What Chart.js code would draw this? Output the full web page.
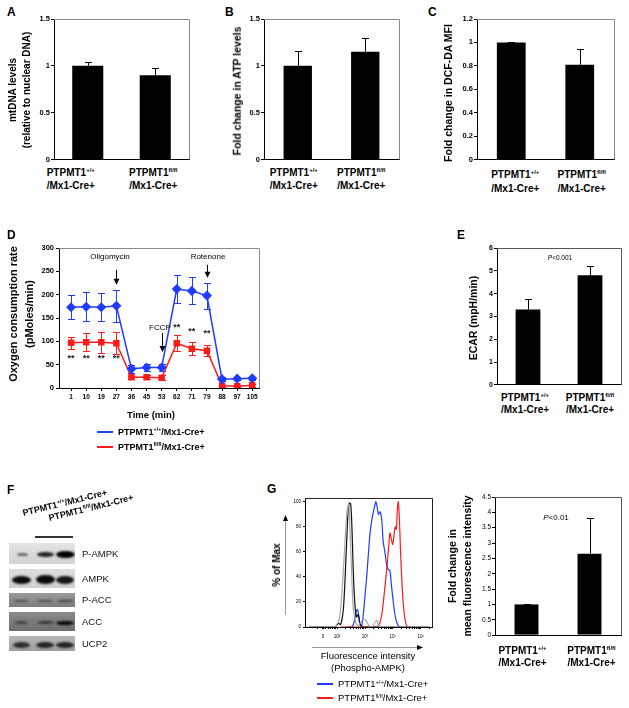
<!DOCTYPE html>
<html>
<head>
<meta charset="utf-8">
<title>PTPMT1 figure</title>
<script src="https://cdn.jsdelivr.net/npm/chart.js@4.4.1/dist/chart.umd.min.js"></script>
<style>
  html, body { margin: 0; padding: 0; background: #fff; }
  body { width: 629px; height: 708px; position: relative; overflow: hidden; font-family: "Liberation Sans", Arial, sans-serif; color: #000; }
  canvas { position: absolute; }
  .t { position: absolute; white-space: nowrap; line-height: 1; }
  .c { transform: translate(-50%, -50%); text-align: center; }
  .r { transform: translate(-50%, -50%) rotate(-90deg); text-align: center; }
  .cat { transform: translateX(-50%); text-align: center; font-weight: bold; font-size: 10px; }
  .lt { font-weight: bold; font-size: 12px; }
  .b { font-weight: bold; }
  sup { font-size: .6em; line-height: 0; vertical-align: .65em; }
  .blot { position: absolute; overflow: hidden; }
  .band { position: absolute; border-radius: 50%; filter: blur(1px); }
  .leg { position: absolute; height: 2px; }
</style>
</head>
<body>
<script>
// ---- values ----
const genotypes = ["+/+", "fl/fl"];
const geneName = "PTPMT1";
const creSuffix = "/Mx1-Cre+";

const mtdnaValues = [1.0, 0.9];
const mtdnaErrors = [0.045, 0.08];
const atpValues = [1.0, 1.15];
const atpErrors = [0.16, 0.15];
const dcfValues = [1.0, 0.81];
const dcfErrors = [0.004, 0.13];
const ecarValues = [3.3, 4.8];
const ecarErrors = [0.45, 0.4];
const mfiValues = [1.0, 2.65];
const mfiErrors = [0.02, 1.15];

const timeLabels = [1, 10, 19, 27, 36, 45, 53, 62, 71, 79, 88, 97, 105];
const ocrControl = [173, 174, 173, 176, 41, 44, 44, 212, 208, 198, 19, 20, 21];
const ocrControlErr = [26, 31, 30, 34, 8, 8, 8, 30, 29, 28, 4, 3, 3];
const ocrKnockout = [97, 98, 98, 96, 23, 23, 22, 96, 84, 80, 5, 4, 6];
const ocrKnockoutErr = [13, 19, 22, 24, 3, 4, 5, 17, 14, 12, 2, 2, 3];

// flow histogram, x in decades of fluorescence, y in % of max
const histGrayX = [1.0, 1.93, 1.99, 2.05, 2.11, 2.20, 2.29, 2.37, 2.42, 2.46, 2.52, 2.58, 2.68, 2.76, 2.85, 2.94, 3.04, 3.15, 3.27, 3.36, 3.44, 3.51, 5.3];
const histGrayY = [0, 0, 2, 4, 10, 35, 70, 95, 98, 80, 45, 15, 3, 1, 4, 6, 5, 1, 0, 4, 5, 0, 0];
const histBlackX = [1.0, 1.93, 2.05, 2.13, 2.23, 2.32, 2.39, 2.44, 2.49, 2.54, 2.58, 2.64, 2.70, 2.76, 2.82, 2.92, 5.3];
const histBlackY = [0, 0, 3, 2, 15, 55, 90, 99, 98, 75, 45, 18, 8, 10, 3, 0, 0];
const histBlueX = [2.35, 2.52, 2.60, 2.68, 2.73, 2.77, 2.82, 2.88, 2.94, 3.00, 3.06, 3.12, 3.18, 3.24, 3.30, 3.36, 3.39, 3.44, 3.48, 3.54, 3.60, 3.65, 3.71, 3.77, 3.83, 3.89, 3.95, 4.01, 4.07, 4.13, 4.23, 4.4];
const histBlueY = [0, 0, 3, 12, 14, 10, 2, 1, 10, 25, 40, 58, 75, 85, 92, 98, 100, 95, 90, 92, 85, 68, 60, 50, 46, 45, 32, 20, 10, 4, 0, 0];
const histRedX = [2.11, 3.42, 3.51, 3.60, 3.68, 3.77, 3.85, 3.89, 3.94, 3.99, 4.04, 4.08, 4.12, 4.15, 4.19, 4.23, 4.27, 4.32, 4.37, 4.43, 4.51, 4.6];
const histRedY = [0, 0, 2, 10, 25, 45, 65, 75, 70, 66, 74, 80, 78, 92, 100, 85, 60, 35, 18, 6, 0, 0];
const histTickValues = [1.5, 2, 3, 4, 5];
const histTickLabels = ["0", "10²", "10³", "10⁴", "10⁵"];

const blotNames = ["P-AMPK", "AMPK", "P-ACC", "ACC", "UCP2"];

// ---- helpers ----
const family = '"Liberation Sans", Arial, sans-serif';
const blue = "#1f3cff";
const red = "#ff1a1a";
Chart.defaults.font.family = family;
Chart.defaults.color = "#000";

function addText(html, x, y, cls, style) {
  const d = document.createElement("div");
  d.className = "t " + (cls || "");
  d.innerHTML = html;
  d.style.left = x + "px";
  d.style.top = y + "px";
  if (style) Object.assign(d.style, style);
  document.body.appendChild(d);
  return d;
}

function placeCanvas(box) {
  const c = document.createElement("canvas");
  c.width = box[2];
  c.height = box[3];
  c.style.left = box[0] + "px";
  c.style.top = box[1] + "px";
  c.style.width = box[2] + "px";
  c.style.height = box[3] + "px";
  document.body.appendChild(c);
  return c;
}

function genoLabel(i) {
  return geneName + "<sup>" + genotypes[i] + "</sup>";
}

const frame = {
  id: "frame",
  afterDraw(chart, args, o) {
    const { ctx, chartArea: a } = chart;
    ctx.save();
    ctx.strokeStyle = o.color || "#888";
    ctx.lineWidth = 1;
    ctx.beginPath();
    ctx.moveTo(a.left, Math.round(a.top) + 0.5);
    ctx.lineTo(Math.round(a.right) + 0.5, Math.round(a.top) + 0.5);
    ctx.lineTo(Math.round(a.right) + 0.5, a.bottom);
    ctx.stroke();
    ctx.restore();
  },
};

const errorBars = {
  id: "errorBars",
  beforeDatasetsDraw(chart) {
    const ctx = chart.ctx;
    const ys = chart.scales.y;
    chart.data.datasets.forEach((ds, d) => {
      if (!ds.errors) return;
      const meta = chart.getDatasetMeta(d);
      ctx.save();
      ctx.strokeStyle = ds.errorColor || "#000";
      ctx.lineWidth = 1;
      meta.data.forEach((el, i) => {
        const raw = ds.data[i];
        const v = typeof raw === "object" ? raw.y : raw;
        const e = ds.errors[i];
        const x = Math.round(el.x) + 0.5;
        const top = Math.round(ys.getPixelForValue(v + e)) + 0.5;
        const bot = ds.upOnly ? ys.getPixelForValue(v) : Math.round(ys.getPixelForValue(v - e)) + 0.5;
        const w = ds.capWidth || 3;
        ctx.beginPath();
        ctx.moveTo(x, bot);
        ctx.lineTo(x, top);
        ctx.moveTo(x - w, top);
        ctx.lineTo(x + w, top);
        if (!ds.upOnly) {
          ctx.moveTo(x - w, bot);
          ctx.lineTo(x + w, bot);
        }
        ctx.stroke();
      });
      ctx.restore();
    });
  },
};

function barPanel(p) {
  const box = p.box, plot = p.plot;
  const chart = new Chart(placeCanvas(box), {
    type: "bar",
    data: {
      labels: genotypes,
      datasets: [{
        data: p.values,
        errors: p.errors,
        upOnly: true,
        capWidth: 3.5,
        backgroundColor: "#000",
        borderWidth: 0,
        barPercentage: p.bar,
        categoryPercentage: 1,
      }],
    },
    options: {
      responsive: false,
      animation: false,
      devicePixelRatio: 1,
      layout: { padding: { left: 0, bottom: 0, top: plot[1] - box[1], right: box[0] + box[2] - plot[2] } },
      plugins: { legend: { display: false }, tooltip: { enabled: false }, frame: { color: p.frame || "#8a8a8a" } },
      scales: {
        x: {
          grid: { drawOnChartArea: false, drawTicks: false },
          border: { color: "#000" },
          ticks: { display: false },
          afterFit(s) { s.height = box[1] + box[3] - plot[3]; },
        },
        y: {
          min: 0,
          max: p.max,
          ticks: {
            stepSize: p.step,
            padding: 1,
            color: "#000",
            font: { size: p.tickSize || 7.5, weight: p.tickWeight || "bold" },
            callback: (v) => String(+v.toFixed(2)),
          },
          grid: { drawOnChartArea: false, tickLength: 3, color: "#000" },
          border: { color: "#000" },
          afterFit(s) { s.width = plot[0] - box[0]; },
        },
      },
    },
    plugins: [frame, errorBars],
  });
  const xs = chart.scales.x;
  genotypes.forEach((g, i) => {
    const cx = box[0] + xs.getPixelForValue(i) + p.shift[i];
    addText(genoLabel(i) + "<br>" + creSuffix, cx, p.labelTop, "cat", { lineHeight: p.labelLh + "px" });
  });
  return chart;
}

// ---- panels A, B, C ----
addText("A", 7, 6, "lt");
addText("B", 225, 6, "lt");
addText("C", 428, 6, "lt");

barPanel({ values: mtdnaValues, errors: mtdnaErrors, max: 1.5, step: 0.5, box: [30, 12, 165, 153], plot: [54, 19, 189, 161], bar: 0.46, labelTop: 166, labelLh: 13, shift: [-17, -2] });
barPanel({ values: atpValues, errors: atpErrors, max: 1.5, step: 0.5, box: [240, 12, 165, 153], plot: [264, 19, 399, 161], bar: 0.42, labelTop: 166, labelLh: 13, shift: [-4, -4] });
barPanel({ values: dcfValues, errors: dcfErrors, max: 1.2, step: 0.2, box: [452, 12, 170, 153], plot: [477, 19, 614, 161], bar: 0.42, labelTop: 168, labelLh: 14, shift: [4, 2] });

addText("mtDNA levels<br>(relative to nuclear DNA)", 20, 90, "r b", { fontSize: "10px", lineHeight: "14px" });
addText("Fold change in ATP levels", 237, 91, "r b", { fontSize: "10.5px" });
addText("Fold change in DCF-DA MFI", 448, 93, "r b", { fontSize: "10.5px" });

// ---- panel D ----
addText("D", 7, 229, "lt");
(function () {
  const box = [30, 240, 235, 165], plot = [59, 248, 259, 388];
  const ocrNotes = {
    id: "ocrNotes",
    afterDatasetsDraw(chart) {
      const { ctx, scales: { x, y } } = chart;
      ctx.save();
      ctx.fillStyle = "#000";
      ctx.strokeStyle = "#000";
      ctx.lineWidth = 1;
      ctx.textAlign = "center";
      ctx.textBaseline = "middle";
      ctx.font = "8px " + family;
      [["Oligomycin", 2.58, 281], ["Rotenone", 9.07, 281], ["FCCP", 5.89, 129]].forEach(([t, i, v]) => {
        ctx.fillText(t, x.getPixelForValue(i), y.getPixelForValue(v));
      });
      [[3, 253, 221], [9, 264, 236], [6, 118, 77]].forEach(([i, v0, v1]) => {
        const px = Math.round(x.getPixelForValue(i)) + 0.5;
        const y0 = y.getPixelForValue(v0), y1 = y.getPixelForValue(v1);
        ctx.beginPath();
        ctx.moveTo(px, y0);
        ctx.lineTo(px, y1 - 5);
        ctx.stroke();
        ctx.beginPath();
        ctx.moveTo(px - 3, y1 - 6);
        ctx.lineTo(px + 3, y1 - 6);
        ctx.lineTo(px, y1);
        ctx.closePath();
        ctx.fill();
      });
      ctx.font = "bold 9px " + family;
      ctx.fillStyle = "#222";
      [[0, 64], [1, 64], [2, 64], [3, 64], [7, 129], [8, 120], [9, 116]].forEach(([i, v]) => {
        ctx.fillText("**", x.getPixelForValue(i), y.getPixelForValue(v));
      });
      ctx.restore();
    },
  };
  new Chart(placeCanvas(box), {
    type: "line",
    data: {
      datasets: [
        {
          data: ocrControl.map((v, i) => ({ x: i, y: v })),
          errors: ocrControlErr,
          errorColor: blue,
          capWidth: 3.5,
          borderColor: blue,
          backgroundColor: blue,
          borderWidth: 1.5,
          pointStyle: "rectRot",
          pointRadius: 4,
        },
        {
          data: ocrKnockout.map((v, i) => ({ x: i, y: v })),
          errors: ocrKnockoutErr,
          errorColor: red,
          capWidth: 3.5,
          borderColor: red,
          backgroundColor: red,
          borderWidth: 1.5,
          pointStyle: "rect",
          pointRadius: 3.5,
        },
      ],
    },
    options: {
      responsive: false,
      animation: false,
      devicePixelRatio: 1,
      layout: { padding: { left: 0, bottom: 0, top: plot[1] - box[1], right: box[0] + box[2] - plot[2] } },
      plugins: { legend: { display: false }, tooltip: { enabled: false }, frame: { color: "#8a8a8a" } },
      scales: {
        x: {
          type: "linear",
          min: -0.8,
          max: 12.45,
          afterBuildTicks(s) { s.ticks = timeLabels.map((_, i) => ({ value: i })); },
          ticks: { autoSkip: false, maxRotation: 0, padding: 2, font: { size: 6.5, weight: "bold" }, callback: (v, i) => timeLabels[i] },
          grid: { drawOnChartArea: false, tickLength: 3, color: "#000" },
          border: { color: "#000" },
          afterFit(s) { s.height = box[1] + box[3] - plot[3]; },
        },
        y: {
          min: 0,
          max: 300,
          ticks: { stepSize: 50, padding: 2, font: { size: 7.5, weight: "bold" } },
          grid: { drawOnChartArea: false, tickLength: 3, color: "#000" },
          border: { color: "#000" },
          afterFit(s) { s.width = plot[0] - box[0]; },
        },
      },
    },
    plugins: [frame, errorBars, ocrNotes],
  });
})();
addText("Oxygen consumption rate<br>(pMoles/min)", 21, 314, "r b", { fontSize: "11px", lineHeight: "16px" });
addText("Time (min)", 151, 415, "c b", { fontSize: "9.5px" });
addText("", 97, 431, "leg", { width: "16px", background: blue });
addText("", 97, 446, "leg", { width: "16px", background: red });
addText(genoLabel(0) + creSuffix, 118, 432, "b", { fontSize: "9px", transform: "translateY(-50%)" });
addText(genoLabel(1) + creSuffix, 118, 447, "b", { fontSize: "9px", transform: "translateY(-50%)" });

// ---- panel E ----
addText("E", 457, 229, "lt");
barPanel({ values: ecarValues, errors: ecarErrors, max: 6, step: 1, box: [475, 240, 152, 150], plot: [497, 248, 621, 387], bar: 0.4, labelTop: 392, labelLh: 12, shift: [-3, 0], frame: "#555", tickSize: 7 });
addText("ECAR (mpH/min)", 473, 318, "r b", { fontSize: "10.5px" });
addText("<i>P</i>&lt;0.001", 560, 258, "c", { fontSize: "6.5px" });

// ---- panel F (western blot) ----
addText("F", 7, 484, "lt");
addText(genoLabel(0) + creSuffix, 24, 509, "b", { fontSize: "9px", transformOrigin: "0 100%", transform: "rotate(-14deg)" });
addText(genoLabel(1) + creSuffix, 50, 514, "b", { fontSize: "9px", transformOrigin: "0 100%", transform: "rotate(-14deg)" });
addText("", 35, 536, "leg", { width: "38px", height: "1.5px", background: "#333" });
(function () {
  const blots = [
    { top: 543, h: 21, bg: "linear-gradient(#e4e4e4,#d2d2d2)", bands: [[22, 11, 3, 0.55], [45, 17, 5, 0.85], [65, 19, 7, 1]] },
    { top: 569, h: 19, bg: "linear-gradient(#dedede,#cfcfcf)", bands: [[21, 19, 8, 0.95], [45, 19, 9, 0.95], [65, 18, 8, 0.9]] },
    { top: 593, h: 14, bg: "linear-gradient(#9a9a9a,#7c7c7c)", bands: [[21, 14, 2, 0.45], [45, 16, 2, 0.45], [65, 17, 2, 0.55]] },
    { top: 612, h: 19, bg: "linear-gradient(#8a8a8a,#6e6e6e)", bands: [[21, 14, 3, 0.5], [45, 17, 3, 0.6], [65, 18, 4, 0.95]] },
    { top: 636, h: 15, bg: "linear-gradient(#b8b8b8,#9e9e9e)", bands: [[21, 17, 6, 0.75], [45, 18, 6, 0.8], [65, 18, 6, 0.8]] },
  ];
  blots.forEach((b, k) => {
    const d = document.createElement("div");
    d.className = "blot";
    Object.assign(d.style, { left: "9px", top: b.top + "px", width: "66px", height: b.h + "px", background: b.bg });
    b.bands.forEach(([cx, w, h, a]) => {
      const s = document.createElement("div");
      s.className = "band";
      Object.assign(s.style, { left: cx - 9 - w / 2 + "px", top: b.h / 2 - h / 2 + 1 + "px", width: w + "px", height: h + "px", background: "rgba(0,0,0," + a + ")" });
      d.appendChild(s);
    });
    document.body.appendChild(d);
    addText(blotNames[k], 82, b.top + b.h / 2, "", { fontSize: "9.5px", transform: "translateY(-50%)", color: "#111" });
  });
})();

// ---- panel G (flow histogram + bar) ----
addText("G", 267, 483, "lt");
(function () {
  const box = [272, 492, 165, 160], plot = [305, 498, 432, 627];
  const minor = [];
  for (let d = 1; d <= 5; d++) {
    for (let k = 2; k <= 9; k++) {
      const v = d + Math.log10(k);
      if (v > 1.3 && v < 5.39 && histTickValues.indexOf(v) < 0) minor.push(v);
    }
  }
  const arrows = {
    id: "arrows",
    afterDraw(chart) {
      const { ctx, chartArea: a } = chart;
      ctx.save();
      ctx.strokeStyle = "#9a9a9a";
      ctx.fillStyle = "#000";
      ctx.lineWidth = 1;
      const ax = Math.round(a.left - 20) + 0.5;
      ctx.beginPath();
      ctx.moveTo(ax, a.bottom - 12);
      ctx.lineTo(ax, a.top + 22);
      ctx.stroke();
      ctx.beginPath();
      ctx.moveTo(ax - 2.5, a.top + 23);
      ctx.lineTo(ax + 2.5, a.top + 23);
      ctx.lineTo(ax, a.top + 17);
      ctx.closePath();
      ctx.fill();
      const ay = Math.round(a.bottom + 20) + 0.5;
      ctx.beginPath();
      ctx.moveTo(a.left + 7, ay);
      ctx.lineTo(a.right - 14, ay);
      ctx.stroke();
      ctx.beginPath();
      ctx.moveTo(a.right - 15, ay - 2.5);
      ctx.lineTo(a.right - 15, ay + 2.5);
      ctx.lineTo(a.right - 9, ay);
      ctx.closePath();
      ctx.fill();
      ctx.restore();
    },
  };
  const curve = (xs, ys, color) => ({
    data: xs.map((x, i) => ({ x, y: ys[i] })),
    borderColor: color,
    borderWidth: 1.2,
    pointRadius: 0,
    tension: 0.3,
  });
  new Chart(placeCanvas(box), {
    type: "line",
    data: {
      datasets: [
        curve(histGrayX, histGrayY, "#a8a8a8"),
        curve(histBlackX, histBlackY, "#111"),
        curve(histRedX, histRedY, red),
        curve(histBlueX, histBlueY, blue),
      ],
    },
    options: {
      responsive: false,
      animation: false,
      devicePixelRatio: 1,
      layout: { padding: { left: 0, bottom: 0, top: plot[1] - box[1], right: box[0] + box[2] - plot[2] } },
      plugins: { legend: { display: false }, tooltip: { enabled: false }, frame: { color: "#222" } },
      scales: {
        x: {
          type: "linear",
          min: 0.857,
          max: 5.393,
          afterBuildTicks(s) { s.ticks = histTickValues.concat(minor).map((v) => ({ value: v })); },
          ticks: {
            autoSkip: false,
            maxRotation: 0,
            padding: 5,
            font: { size: 4.5 },
            callback: (v) => { const k = histTickValues.indexOf(v); return k < 0 ? "" : histTickLabels[k]; },
          },
          grid: { drawOnChartArea: false, tickLength: 2, color: "#000" },
          border: { color: "#000" },
          afterFit(s) { s.height = box[1] + box[3] - plot[3]; },
        },
        y: {
          min: 0,
          max: 103,
          afterBuildTicks(s) { s.ticks = [0, 20, 40, 60, 80, 100].map((v) => ({ value: v })); },
          ticks: { padding: 2, font: { size: 4.5 } },
          grid: { drawOnChartArea: false, tickLength: 2, color: "#000" },
          border: { color: "#000" },
          afterFit(s) { s.width = plot[0] - box[0]; },
        },
      },
    },
    plugins: [frame, arrows],
  });
})();
addText("% of Max", 277, 565, "r b", { fontSize: "10px" });
addText("Fluorescence intensity<br>(Phospho-AMPK)", 368, 662, "c", { fontSize: "9.5px", lineHeight: "12px" });
addText("", 317, 683, "leg", { width: "16px", background: blue });
addText("", 317, 697, "leg", { width: "16px", background: red });
addText(genoLabel(0) + creSuffix, 338, 684, "", { fontSize: "9.5px", transform: "translateY(-50%)" });
addText(genoLabel(1) + creSuffix, 338, 698, "", { fontSize: "9.5px", transform: "translateY(-50%)" });

barPanel({ values: mfiValues, errors: mfiErrors, max: 4.5, step: 0.5, box: [475, 490, 152, 150], plot: [495, 497, 621, 636], bar: 0.38, labelTop: 645, labelLh: 11.5, shift: [-4, 2], frame: "#555", tickSize: 6.5, tickWeight: "normal" });
addText("Fold change in<br>mean fluorescence intensity", 460, 566, "r b", { fontSize: "10.5px", lineHeight: "15px" });
addText("<i>P</i>&lt;0.01", 556, 518, "c", { fontSize: "8px" });
</script>
</body>
</html>
